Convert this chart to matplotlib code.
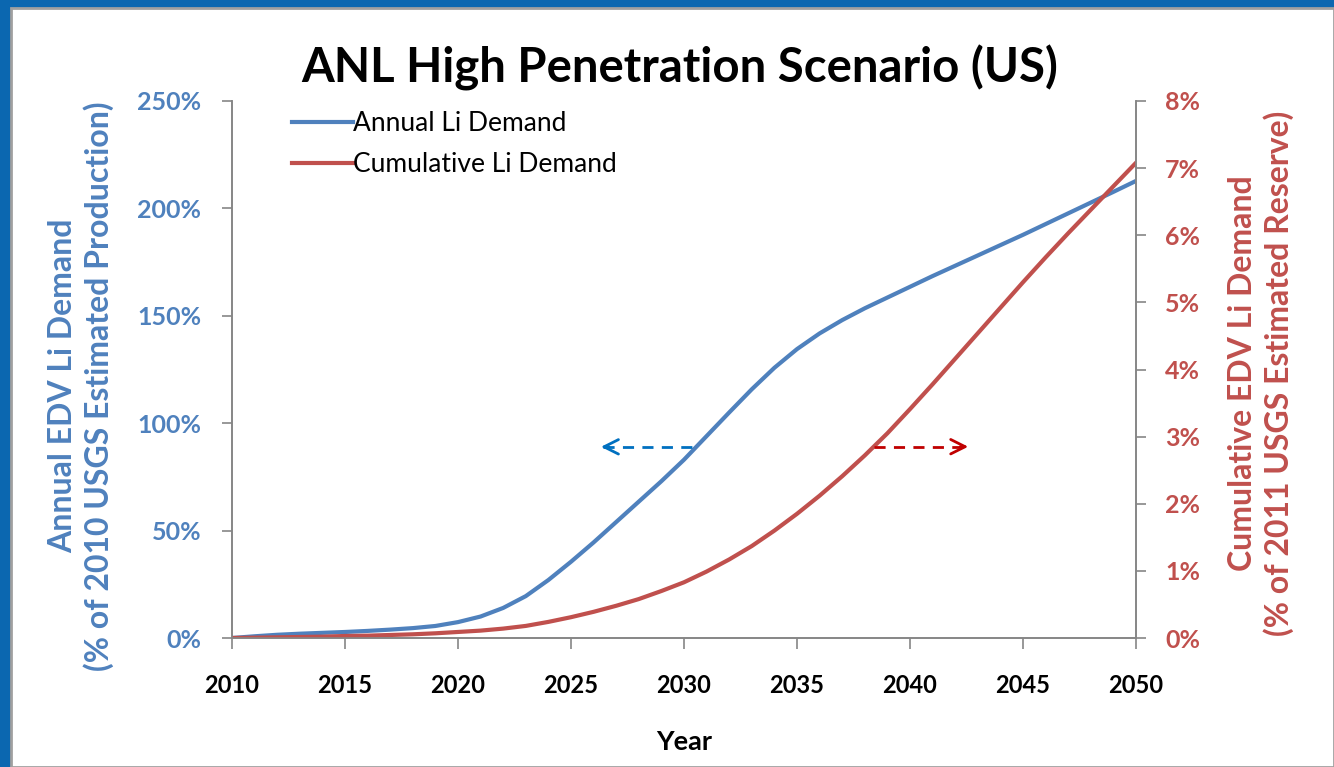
import matplotlib.pyplot as plt
from matplotlib.patches import Rectangle
from matplotlib.ticker import FuncFormatter

plt.rcParams['font.family'] = ['Lato', 'DejaVu Sans']

years = list(range(2010, 2051))
annual = [0, 0.8, 1.5, 2.0, 2.4, 2.8, 3.3, 3.9, 4.6, 5.6,
          7.4, 10.0, 14.0, 19.5, 27, 35.5, 44.5, 54, 63.5, 73,
          83, 94, 105, 115.8, 125.8, 134.5, 141.8, 148, 153.5, 158.5,
          163.5, 168.5, 173.3, 178.1, 182.9, 187.7, 192.7, 197.7, 202.7, 207.7,
          212.8]
cumulative = [0, 0.005, 0.01, 0.015, 0.02, 0.03, 0.035, 0.045, 0.055, 0.07,
              0.09, 0.11, 0.14, 0.18, 0.24, 0.31, 0.39, 0.48, 0.58, 0.7,
              0.83, 0.99, 1.17, 1.37, 1.6, 1.85, 2.12, 2.41, 2.72, 3.05,
              3.41, 3.78, 4.16, 4.54, 4.92, 5.3, 5.67, 6.03, 6.38, 6.73,
              7.08]

blue = '#4f81bd'
red = '#c0504d'
grey = '#868686'

fig = plt.figure(figsize=(13.34, 7.67), dpi=100, facecolor='#0b67b0')
# white slide panel
fig.patches.append(Rectangle((11 / 1334, 0), 1 - 11 / 1334, 1 - 8 / 767,
                             transform=fig.transFigure, facecolor='white',
                             edgecolor='#a0a0a0', linewidth=2, zorder=-5))

ax = fig.add_axes([232 / 1334, 1 - 638 / 767, 904 / 1334, 537 / 767])
ax.set_facecolor('none')
ax2 = ax.twinx()

l1, = ax.plot(years, annual, color=blue, lw=3, solid_joinstyle='round')
l2, = ax2.plot(years, cumulative, color=red, lw=3, solid_joinstyle='round')

ax.set_xlim(2010, 2050)
ax.set_ylim(0, 250)
ax2.set_ylim(0, 8)
ax.set_xticks(range(2010, 2051, 5))
ax.set_yticks(range(0, 251, 50))
ax2.set_yticks(range(0, 9))
ax.yaxis.set_major_formatter(FuncFormatter(lambda v, p: f'{v:.0f}%'))
ax2.yaxis.set_major_formatter(FuncFormatter(lambda v, p: f'{v:.0f}%'))

for a in (ax, ax2):
    a.spines['top'].set_visible(False)
    for s in ('left', 'right', 'bottom'):
        a.spines[s].set_color(grey)
        a.spines[s].set_linewidth(1.2)
ax.tick_params(axis='x', colors=grey, length=8, width=1.2, pad=18, labelcolor='black', labelsize=17)
ax.tick_params(axis='y', colors=grey, length=7, width=1.2, pad=15, labelcolor=blue, labelsize=18)
ax2.tick_params(axis='y', colors=grey, length=7, width=1.2, pad=14, labelcolor=red, labelsize=18)
for t in ax.get_xticklabels() + ax.get_yticklabels() + ax2.get_yticklabels():
    t.set_fontweight('bold')

ax.legend([l1, l2], ['Annual Li Demand', 'Cumulative Li Demand'],
          loc='upper left', bbox_to_anchor=(0.04, 1.025), frameon=False,
          fontsize=19, handlelength=2.3, handletextpad=0.0, labelspacing=0.6)

# dashed direction arrows
ax.plot([2026.4, 2030.6], [89, 89], color='#0070c0', lw=2, ls=(0, (4, 3)))
ax.annotate('', xy=(2026.2, 89), xytext=(2026.8, 89),
            arrowprops=dict(arrowstyle='->', color='#0070c0', lw=2, mutation_scale=26))
ax2.plot([2038.4, 2042.5], [2.85, 2.85], color='#c00000', lw=2, ls=(0, (4, 3)))
ax2.annotate('', xy=(2042.7, 2.85), xytext=(2042.1, 2.85),
             arrowprops=dict(arrowstyle='->', color='#c00000', lw=2, mutation_scale=26))

fig.text(680 / 1334, 1 - 68 / 767, 'ANL High Penetration Scenario (US)',
         ha='center', va='center', fontsize=34, fontweight='bold')
fig.text(684 / 1334, 1 - 742 / 767, 'Year', ha='center', va='center',
         fontsize=19.5, fontweight='bold')
fig.text(81 / 1334, 1 - 386 / 767,
         'Annual EDV Li Demand\n(% of 2010 USGS Estimated Production)',
         rotation=90, ha='center', va='center', fontsize=23, color=blue,
         fontweight='bold', linespacing=1.25, multialignment='center')
fig.text(1261 / 1334, 1 - 373 / 767,
         'Cumulative EDV Li Demand\n(% of 2011 USGS Estimated Reserve)',
         rotation=90, ha='center', va='center', fontsize=23, color=red,
         fontweight='bold', linespacing=1.25, multialignment='center')

fig.savefig('out.png', dpi=100, facecolor=fig.get_facecolor())
